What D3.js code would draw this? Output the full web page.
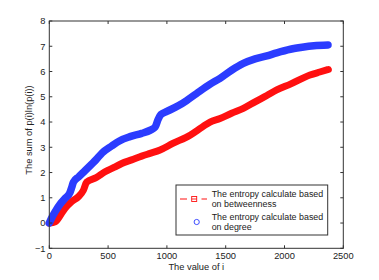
<!DOCTYPE html>
<html><head><meta charset="utf-8">
<script src="https://cdn.jsdelivr.net/npm/d3@7"></script>
<style>body{margin:0;background:#fff}svg{display:block}text{font-family:"Liberation Sans",Arial,Helvetica,sans-serif;fill:#222}</style>
</head><body><svg id="c" width="379" height="280"></svg>
<script>
const xTicks = [0, 500, 1000, 1500, 2000, 2500];
const yTicks = [-1, 0, 1, 2, 3, 4, 5, 6, 7, 8];
const degreeX = [0,20,50,100,135,175,190,205,250,305,400,450,530,600,686,786,860,900,925,950,1000,1100,1168,1250,1368,1452,1550,1650,1750,1850,1934,2050,2150,2250,2370];
const degreeY = [0,0.2,0.45,0.8,0.98,1.2,1.4,1.62,1.83,2.08,2.52,2.78,3.05,3.26,3.42,3.55,3.68,3.8,4.1,4.3,4.42,4.65,4.85,5.12,5.5,5.73,6.05,6.32,6.5,6.62,6.74,6.88,6.96,7.02,7.05];
const betwX = [0,50,100,134,190,247,290,318,400,474,550,616,700,786,850,942,1050,1197,1300,1367,1452,1550,1650,1750,1850,1934,2050,2217,2300,2373];
const betwY = [0,0.05,0.35,0.58,0.85,1.04,1.3,1.62,1.8,2.03,2.2,2.36,2.5,2.65,2.75,2.89,3.15,3.48,3.8,4.0,4.14,4.35,4.54,4.8,5.05,5.27,5.5,5.86,5.98,6.08];
const legendLabels = [["The entropy calculate based","on betweenness"],["The entropy calculate based","on degree"]];
const xLabel = "The value of i";
const yLabel = "The sum of p(i)ln(p(i))";

const svg = d3.select("#c");
const L = 49.3, R = 343.3, T = 21, B = 248.3;
const x = d3.scaleLinear().domain([0, 2500]).range([L, R]);
const y = d3.scaleLinear().domain([-1, 8]).range([B, T]);

const line = d3.line().x(d => x(d[0])).y(d => y(d[1])).curve(d3.curveMonotoneX);
const red = "#ff1010", blue = "#2b3cff";
svg.append("path").attr("d", line(betwX.map((v,i)=>[v,betwY[i]])))
  .attr("fill","none").attr("stroke",red).attr("stroke-width",7).attr("stroke-linecap","round").attr("stroke-linejoin","round");
svg.append("path").attr("d", line(degreeX.map((v,i)=>[v,degreeY[i]])))
  .attr("fill","none").attr("stroke",blue).attr("stroke-width",7.5).attr("stroke-linecap","round").attr("stroke-linejoin","round");

// axes box
const g = svg.append("g");
g.append("rect").attr("x",L).attr("y",T).attr("width",R-L).attr("height",B-T).attr("fill","none").attr("stroke","#333").attr("stroke-width",1);
const tl = 3;
xTicks.forEach(t => {
  g.append("line").attr("x1",x(t)).attr("x2",x(t)).attr("y1",B).attr("y2",B-tl).attr("stroke","#333");
  g.append("line").attr("x1",x(t)).attr("x2",x(t)).attr("y1",T).attr("y2",T+tl).attr("stroke","#333");
  g.append("text").attr("x",x(t)).attr("y",259.3).attr("text-anchor","middle").attr("font-size",9.3).text(t);
});
yTicks.forEach(t => {
  g.append("line").attr("x1",L).attr("x2",L+tl).attr("y1",y(t)).attr("y2",y(t)).attr("stroke","#333");
  g.append("line").attr("x1",R).attr("x2",R-tl).attr("y1",y(t)).attr("y2",y(t)).attr("stroke","#333");
  g.append("text").attr("x",45.5).attr("y",y(t)).attr("dy","0.35em").attr("text-anchor","end").attr("font-size",9.3).text(t < 0 ? "\u2212" + Math.abs(t) : t);
});
svg.append("text").attr("x",(L+R)/2).attr("y",269.5).attr("text-anchor","middle").attr("font-size",9.3).text(xLabel);
svg.append("text").attr("transform","translate(32,130) rotate(-90)").attr("text-anchor","middle").attr("font-size",9.3).text(yLabel);

// legend
const lg = svg.append("g");
lg.append("rect").attr("x",176).attr("y",185).attr("width",151.7).attr("height",50).attr("fill","#fff").attr("stroke","#333");
lg.append("line").attr("x1",180).attr("x2",187).attr("y1",199).attr("y2",199).attr("stroke",red).attr("stroke-width",1);
lg.append("line").attr("x1",201.5).attr("x2",207).attr("y1",199).attr("y2",199).attr("stroke",red).attr("stroke-width",1);
lg.append("rect").attr("x",191.7).attr("y",196.5).attr("width",5).attr("height",5).attr("fill","none").attr("stroke",red).attr("stroke-width",0.9);
lg.append("line").attr("x1",191.7).attr("x2",196.7).attr("y1",199).attr("y2",199).attr("stroke",red).attr("stroke-width",0.9);
lg.append("circle").attr("cx",196.7).attr("cy",222).attr("r",2.6).attr("fill","none").attr("stroke",blue).attr("stroke-width",0.9);
legendLabels.forEach((lines,i) => {
  lines.forEach((s,j) => {
    lg.append("text").attr("x",211.7).attr("y",[194,217.3][i] + j*10).attr("dy","0.35em").attr("font-size",8.9).text(s);
  });
});
</script></body></html>
